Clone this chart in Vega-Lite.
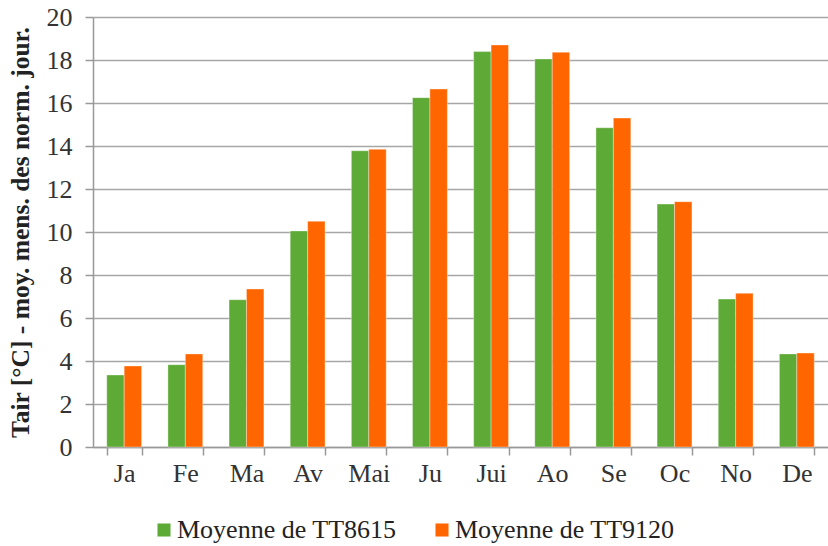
{
  "$schema": "https://vega.github.io/schema/vega-lite/v6.json",
  "autosize": {"type": "none"},
  "width": 735,
  "height": 430,
  "padding": {"left": 93, "top": 17, "right": 0, "bottom": 99},
  "background": "white",
  "data": {"values": [
    {"mois": "Ja", "serie": "Moyenne de TT8615", "val": 3.35},
    {"mois": "Ja", "serie": "Moyenne de TT9120", "val": 3.77},
    {"mois": "Fe", "serie": "Moyenne de TT8615", "val": 3.83},
    {"mois": "Fe", "serie": "Moyenne de TT9120", "val": 4.33},
    {"mois": "Ma", "serie": "Moyenne de TT8615", "val": 6.85},
    {"mois": "Ma", "serie": "Moyenne de TT9120", "val": 7.35},
    {"mois": "Av", "serie": "Moyenne de TT8615", "val": 10.05},
    {"mois": "Av", "serie": "Moyenne de TT9120", "val": 10.5},
    {"mois": "Mai", "serie": "Moyenne de TT8615", "val": 13.78},
    {"mois": "Mai", "serie": "Moyenne de TT9120", "val": 13.85},
    {"mois": "Ju", "serie": "Moyenne de TT8615", "val": 16.25},
    {"mois": "Ju", "serie": "Moyenne de TT9120", "val": 16.65},
    {"mois": "Jui", "serie": "Moyenne de TT8615", "val": 18.39},
    {"mois": "Jui", "serie": "Moyenne de TT9120", "val": 18.7},
    {"mois": "Ao", "serie": "Moyenne de TT8615", "val": 18.05},
    {"mois": "Ao", "serie": "Moyenne de TT9120", "val": 18.36},
    {"mois": "Se", "serie": "Moyenne de TT8615", "val": 14.85},
    {"mois": "Se", "serie": "Moyenne de TT9120", "val": 15.3},
    {"mois": "Oc", "serie": "Moyenne de TT8615", "val": 11.3},
    {"mois": "Oc", "serie": "Moyenne de TT9120", "val": 11.41},
    {"mois": "No", "serie": "Moyenne de TT8615", "val": 6.88},
    {"mois": "No", "serie": "Moyenne de TT9120", "val": 7.15},
    {"mois": "De", "serie": "Moyenne de TT8615", "val": 4.33},
    {"mois": "De", "serie": "Moyenne de TT9120", "val": 4.37}
  ]},
  "mark": {"type": "bar", "stroke": "#ffffff", "strokeOpacity": 0.35, "strokeWidth": 1},
  "encoding": {
    "x": {
      "field": "mois", "type": "nominal",
      "sort": ["Ja","Fe","Ma","Av","Mai","Ju","Jui","Ao","Se","Oc","No","De"],
      "scale": {"paddingInner": 0.43, "paddingOuter": 0.225},
      "axis": {
        "title": null, "labelAngle": 0, "tickBand": "extent",
        "labelFont": "Liberation Serif", "labelFontSize": 26, "labelColor": "#333333",
        "labelPadding": 5, "domainColor": "#999999", "domainWidth": 1.5,
        "tickColor": "#999999", "tickWidth": 1.5, "tickSize": 8, "grid": false
      }
    },
    "xOffset": {"field": "serie", "type": "nominal", "scale": {"paddingInner": 0}},
    "y": {
      "field": "val", "type": "quantitative",
      "scale": {"domain": [0, 20], "nice": false},
      "axis": {
        "title": "Tair [°C] - moy. mens. des norm. jour.",
        "titleFont": "Liberation Serif", "titleFontSize": 25.5, "titleFontWeight": "bold",
        "titleColor": "#222222", "titlePadding": 13,
        "values": [0,2,4,6,8,10,12,14,16,18,20],
        "labelFont": "Liberation Serif", "labelFontSize": 26, "labelColor": "#333333",
        "labelPadding": 13,
        "domainColor": "#999999", "domainWidth": 1.5,
        "tickColor": "#999999", "tickWidth": 1.5, "tickSize": 8,
        "grid": true, "gridColor": "#a6a6a6", "gridWidth": 1.5
      }
    },
    "color": {
      "field": "serie", "type": "nominal",
      "scale": {"range": ["#5eaa36", "#ff6600"]},
      "legend": {
        "title": null, "orient": "none", "direction": "horizontal",
        "legendX": 58, "legendY": 500, "padding": 0,
        "symbolType": "square", "symbolSize": 170, "symbolStrokeWidth": 0,
        "labelFont": "Liberation Serif", "labelFontSize": 26, "labelColor": "#222222",
        "labelLimit": 0, "columnPadding": 32, "labelOffset": 0
      }
    }
  },
  "config": {"view": {"stroke": null}}
}
